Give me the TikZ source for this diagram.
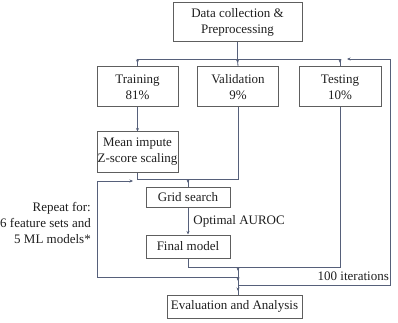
\documentclass[tikz,border=0pt]{standalone}
\usepackage{fontspec}
\setmainfont{Liberation Serif}
\usetikzlibrary{arrows.meta,decorations.markings,calc}
\definecolor{boxc}{HTML}{5E5E5E}
\definecolor{linec}{HTML}{56607A}
\definecolor{txtc}{HTML}{1E1E1E}
\begin{document}
\begin{tikzpicture}[x=1pt,y=-1pt,
  box/.style={draw=boxc,line width=1pt,rectangle,inner sep=0pt,align=center,text=txtc,font=\fontsize{13}{16}\selectfont},
  conn/.style={draw=linec,line width=0.8pt},
  tip/.style={-{Stealth[length=3.5pt,width=3pt]}},
  tipat/.style={postaction={decorate},decoration={markings,mark=at position #1 with {\arrow{Stealth[length=3.5pt,width=3pt]}}}},
  lbl/.style={text=txtc,font=\fontsize{13}{16}\selectfont,inner sep=0pt}]
\useasboundingbox (0,0) rectangle (398,323);
\node[box,minimum width=129pt,minimum height=39pt] (data) at (237.5,22.5) {Data collection \&\\Preprocessing};
\node[box,minimum width=81pt,minimum height=40pt] (train) at (137.5,87) {Training\\81\%};
\node[box,minimum width=81pt,minimum height=40pt] (valid) at (238,87) {Validation\\9\%};
\node[box,minimum width=82pt,minimum height=40pt] (test) at (340,87) {Testing\\10\%};
\node[box,minimum width=81pt,minimum height=40pt] (mean) at (137.5,152) {Mean impute\\Z-score scaling};
\node[box,minimum width=84pt,minimum height=20pt] (grid) at (188,197) {Grid search};
\node[box,minimum width=84pt,minimum height=23pt] (final) at (188,246.5) {Final model};
\node[box,minimum width=135pt,minimum height=23pt] (eval) at (234.5,306.5) {Evaluation and Analysis};
% junctions
\coordinate (j0) at (237.5,59);
\coordinate (jt) at (137.5,59);
\coordinate (js) at (340,59);
\coordinate (jv) at (238,179);
\coordinate (jm) at (137.5,179);
\coordinate (jg) at (188,179);
\coordinate (jf) at (188,267);
\coordinate (jx) at (340,267);
\coordinate (e1) at (238,267);
\coordinate (e2) at (238,277);
\coordinate (e3) at (238,285);
\coordinate (e4) at (238,295);
\coordinate (rl) at (97,277);
\coordinate (rt) at (97,181);
\coordinate (ra) at (133,181);
\coordinate (il) at (390,285);
\coordinate (it) at (390,59);
\coordinate (ia) at (347,59);
% connectors
\draw[conn] (data.south) -- (j0);
\draw[conn] (jt) -- (js);
\draw[conn,tipat=4pt] (jt) -- (train.north);
\draw[conn,tipat=4pt] (j0 |- jt) -- (valid.north);
\draw[conn,tipat=4pt] (js) -- (test.north);
\draw[conn,tip] (train.south) -- (mean.north);
\draw[conn] (valid.south) -- (jv) -- (jm) -- (mean.south);
\draw[conn,tipat=4pt] (jg) -- (grid.north);
\draw[conn,tip] (grid.south) -- node[lbl,anchor=west,xshift=5pt] (auc) {Optimal AUROC} (final.north);
\draw[conn] (final.south) -- (jf) -- (jx) -- (test.south);
\draw[conn,tipat=4pt] (e1) -- (e2);
\draw[conn,tipat=4pt] (e2) -- (e3);
\draw[conn,tipat=6pt] (e3) -- (e4);
\draw[conn,tip] (e2) -- (rl) -- (rt) -- (ra);
\draw[conn,tip] (e3) -- (il) -- (it) -- (ia);
\node[lbl,anchor=east,align=right] (rep) at (91,223) {Repeat for:\\6 feature sets and\\5 ML models*};
\node[lbl,anchor=east] (iter) at (389,276) {100 iterations};
\end{tikzpicture}
\end{document}
